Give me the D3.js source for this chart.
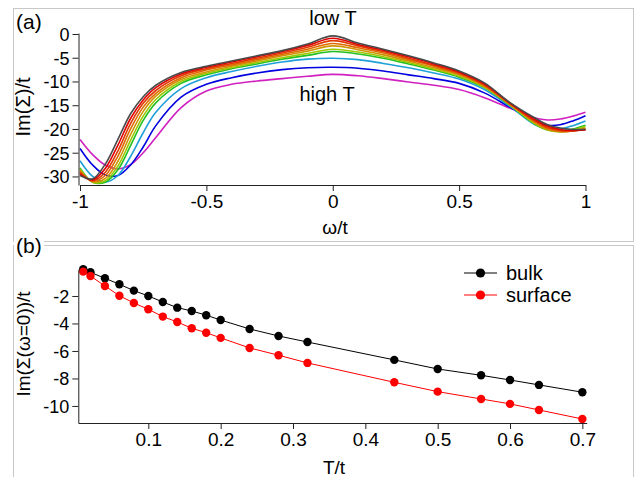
<!DOCTYPE html>
<html><head><meta charset="utf-8">
<script src="https://cdn.jsdelivr.net/npm/d3@7"></script>
<style>
html,body{margin:0;padding:0;background:#fff;}
svg{display:block;font-family:"Liberation Sans",Arial,Helvetica,sans-serif;}
</style></head>
<body>
<svg id="chart" width="642" height="477"></svg>
<script>
// ---------- Panel (a) data ----------
const omega = [-1,-0.95,-0.9,-0.85,-0.8,-0.75,-0.7,-0.6,-0.5,-0.4,-0.3,-0.2,-0.1,0,0.1,0.2,0.3,0.4,0.5,0.6,0.7,0.8,0.85,0.9,0.95,1];
const sigmaGray    = [-29.8,-30.5,-27.4,-22.2,-16.8,-13.2,-10.8,-8.1,-6.8,-5.7,-4.6,-3.5,-2.1,-0.4,-1.9,-3.2,-4.6,-6.1,-7.8,-10.3,-14.4,-17.7,-19.1,-19.8,-20.1,-20.1];
const sigmaRed     = [-29.5,-30.7,-28.3,-23.4,-17.8,-13.9,-11.3,-8.4,-7.0,-5.9,-4.8,-3.7,-2.4,-0.9,-2.2,-3.4,-4.8,-6.3,-8.0,-10.5,-14.5,-18.0,-19.4,-20.1,-20.3,-20.2];
const sigmaOrRed   = [-29.2,-30.9,-29.1,-24.6,-18.9,-14.6,-11.9,-8.8,-7.3,-6.2,-5.1,-4.0,-2.8,-1.4,-2.5,-3.7,-5.1,-6.6,-8.2,-10.7,-14.6,-18.3,-19.7,-20.3,-20.4,-20.1];
const sigmaOrange  = [-29.0,-31.0,-29.8,-25.7,-20.0,-15.4,-12.5,-9.2,-7.6,-6.5,-5.4,-4.3,-3.2,-2.0,-2.9,-4.0,-5.4,-6.8,-8.4,-10.9,-14.7,-18.5,-19.9,-20.5,-20.4,-20.0];
const sigmaGold    = [-28.7,-31.1,-30.4,-26.8,-21.2,-16.3,-13.1,-9.6,-8.0,-6.8,-5.7,-4.6,-3.6,-2.5,-3.3,-4.4,-5.7,-7.1,-8.6,-11.0,-14.8,-18.7,-20.1,-20.6,-20.4,-19.8];
const sigmaYGreen  = [-28.4,-31.2,-30.9,-27.8,-22.4,-17.3,-13.8,-10.0,-8.3,-7.1,-6.0,-5.0,-4.1,-3.2,-3.8,-4.8,-6.0,-7.4,-8.9,-11.2,-14.9,-18.9,-20.2,-20.6,-20.2,-19.5];
const sigmaGreen   = [-28.2,-31.2,-31.2,-28.6,-23.5,-18.2,-14.5,-10.4,-8.6,-7.3,-6.3,-5.3,-4.5,-3.7,-4.2,-5.1,-6.3,-7.6,-9.1,-11.3,-15.0,-19.0,-20.2,-20.5,-20.0,-19.2];
const sigmaCyan    = [-26.7,-30.0,-31.2,-29.8,-25.8,-20.8,-16.5,-11.5,-9.2,-7.9,-6.8,-5.9,-5.3,-5.1,-5.4,-6.2,-7.1,-8.2,-9.5,-11.7,-15.2,-19.1,-20.0,-20.0,-19.3,-18.3];
const sigmaBlue    = [-24.1,-27.6,-29.7,-29.8,-27.6,-23.8,-19.3,-13.3,-10.6,-9.2,-8.2,-7.5,-7.1,-7.0,-7.2,-7.8,-8.6,-9.4,-10.4,-12.4,-15.4,-18.4,-19.2,-19.1,-18.3,-17.2];
const sigmaMagenta = [-22.2,-25.4,-27.6,-28.4,-27.5,-25.0,-21.8,-15.5,-12.0,-10.6,-9.9,-9.4,-8.9,-8.5,-8.8,-9.4,-10.1,-10.8,-11.7,-13.4,-15.6,-17.7,-18.1,-17.9,-17.3,-16.5];
const curveColors = ["#4a4a4a","#e00000","#e03a00","#e06a00","#d09400","#9cc800","#22c022","#20a0d8","#0000e0","#d020c0"];
const omegaTicks = [-1,-0.5,0,0.5,1];
const sigmaTicks = [0,-5,-10,-15,-20,-25,-30];

// ---------- Panel (b) data ----------
const temps = [0.01,0.02,0.04,0.06,0.08,0.10,0.12,0.14,0.16,0.18,0.20,0.24,0.28,0.32,0.44,0.50,0.56,0.60,0.64,0.70];
const bulk = [-0.06,-0.28,-0.71,-1.15,-1.61,-2.0,-2.44,-2.85,-3.09,-3.4,-3.75,-4.4,-4.91,-5.35,-6.65,-7.31,-7.77,-8.11,-8.47,-9.0];
const surface = [-0.23,-0.55,-1.27,-1.98,-2.51,-2.97,-3.5,-3.89,-4.35,-4.67,-5.05,-5.78,-6.31,-6.87,-8.28,-8.96,-9.49,-9.85,-10.29,-10.95];
const tTicks = [0.1,0.2,0.3,0.4,0.5,0.6,0.7];
const bTicks = [-2,-4,-6,-8,-10];
const seriesNames = ["bulk","surface"];
const seriesColors = ["#000000","#ff0000"];

const svg = d3.select("#chart");
const FRAME = "#c8c8c8";
const AX = "#222";

// frames
svg.append("rect").attr("x",13.5).attr("y",8.5).attr("width",620).attr("height",233).attr("fill","none").attr("stroke",FRAME);
svg.append("rect").attr("x",13.5).attr("y",245.5).attr("width",620).attr("height",260).attr("fill","none").attr("stroke",FRAME);

// ===== Panel (a) =====
const xa = d3.scaleLinear().domain([-1,1]).range([80,585.5]);
const ya = d3.scaleLinear().domain([-31.8,0.21]).range([185,33]);
const ga = svg.append("g");

const allCurves = [sigmaGray,sigmaRed,sigmaOrRed,sigmaOrange,sigmaGold,sigmaYGreen,sigmaGreen,sigmaCyan,sigmaBlue,sigmaMagenta];
const lineA = d3.line().x((d,i)=>xa(omega[i])).y(d=>ya(d)).curve(d3.curveCatmullRom.alpha(0.5));
// draw high T first so low T is on top
for (let k = allCurves.length-1; k >= 0; k--) {
  ga.append("path").datum(allCurves[k]).attr("d",lineA)
    .attr("fill","none").attr("stroke",curveColors[k]).attr("stroke-width",1.6);
}

const xAxisA = ga.append("g").attr("transform","translate(0,185)")
  .call(d3.axisBottom(xa).tickValues(omegaTicks).tickSize(6).tickSizeOuter(0).tickPadding(4).tickFormat(d=>String(d)));
const yAxisA = ga.append("g").attr("transform","translate(78.5,0)")
  .call(d3.axisLeft(ya).tickValues(sigmaTicks).tickSize(6).tickSizeOuter(0).tickPadding(3).tickFormat(d=>String(d)));
[xAxisA,yAxisA].forEach(a=>{a.select(".domain").attr("stroke",AX);a.selectAll(".tick line").attr("stroke",AX);a.selectAll("text").attr("fill","#000").attr("font-family","Liberation Sans, Arial, sans-serif");});
xAxisA.selectAll("text").attr("font-size",19);
yAxisA.selectAll("text").attr("font-size",18).attr("dy","0.36em");

ga.append("text").attr("x",335).attr("y",234).attr("text-anchor","middle").attr("font-size",19).text("ω/t");
ga.append("text").attr("transform","translate(30,107) rotate(-90)").attr("text-anchor","middle").attr("font-size",20).text("Im(Σ)/t");
ga.append("text").attr("x",16).attr("y",29).attr("font-size",21).text("(a)");
ga.append("text").attr("x",333).attr("y",25).attr("text-anchor","middle").attr("font-size",20).text("low T");
ga.append("text").attr("x",327).attr("y",101).attr("text-anchor","middle").attr("font-size",20).text("high T");

// ===== Panel (b) =====
const xb = d3.scaleLinear().domain([0.0032,0.706]).range([78.3,586.7]);
const yb = d3.scaleLinear().domain([-11.24,-0.06]).range([423,269.3]);
const gb = svg.append("g");

const seriesVals = [bulk, surface];
seriesVals.forEach((vals,s)=>{
  const ln = d3.line().x((d,i)=>xb(temps[i])).y(d=>yb(d));
  gb.append("path").datum(vals).attr("d",ln).attr("fill","none").attr("stroke",seriesColors[s]).attr("stroke-width",1);
});
seriesVals.forEach((vals,s)=>{
  gb.selectAll(null).data(vals).enter().append("circle")
    .attr("cx",(d,i)=>xb(temps[i])).attr("cy",d=>yb(d)).attr("r",4.2).attr("fill",seriesColors[s]);
});

const xAxisB = gb.append("g").attr("transform","translate(0,423)")
  .call(d3.axisBottom(xb).tickValues(tTicks).tickSize(6).tickSizeOuter(0).tickPadding(4).tickFormat(d=>String(d)));
const yAxisB = gb.append("g").attr("transform","translate(78.3,0)")
  .call(d3.axisLeft(yb).tickValues(bTicks).tickSize(6).tickSizeOuter(0).tickPadding(3).tickFormat(d=>String(d)));
[xAxisB,yAxisB].forEach(a=>{a.select(".domain").attr("stroke",AX);a.selectAll(".tick line").attr("stroke",AX);a.selectAll("text").attr("fill","#000").attr("font-family","Liberation Sans, Arial, sans-serif");});
xAxisB.selectAll("text").attr("font-size",19);
yAxisB.selectAll("text").attr("font-size",18).attr("dy","0.36em");

gb.append("text").attr("x",334).attr("y",474).attr("text-anchor","middle").attr("font-size",19).text("T/t");
gb.append("text").attr("transform","translate(30,344) rotate(-90)").attr("text-anchor","middle").attr("font-size",19).text("Im(Σ(ω=0))/t");

// (b) label with white background over frame
gb.append("rect").attr("x",14).attr("y",238).attr("width",30).attr("height",18).attr("fill","#fff");
gb.append("text").attr("x",16).attr("y",253).attr("font-size",21).text("(b)");

// legend
const legY = [273, 295];
seriesNames.forEach((n,s)=>{
  gb.append("line").attr("x1",464).attr("x2",497).attr("y1",legY[s]).attr("y2",legY[s]).attr("stroke",seriesColors[s]).attr("stroke-width",1);
  gb.append("circle").attr("cx",480.5).attr("cy",legY[s]).attr("r",4.6).attr("fill",seriesColors[s]);
  gb.append("text").attr("x",506).attr("y",legY[s]+7).attr("font-size",20).text(n);
});
</script>
</body></html>
